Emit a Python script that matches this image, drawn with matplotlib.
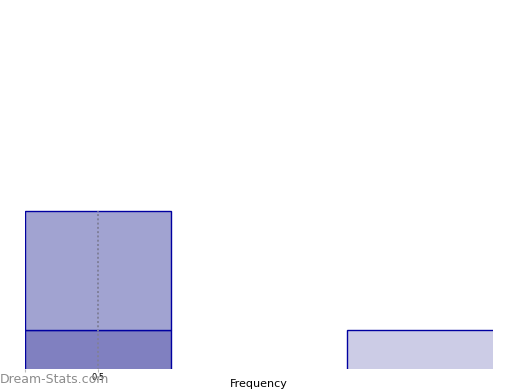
import matplotlib
matplotlib.use("Agg")
import matplotlib.pyplot as plt

# data
groups = ["A", "B"]
left_edges = [0.0, 2.21]
widths = [1.0, 1.02]
base_vals = [1.0, 1.0]
top_vals = [3.0, 0.0]

fig = plt.figure(figsize=(5.2, 3.9), dpi=100)
ax = fig.add_axes([25 / 520, 21 / 390, 468 / 520, 369 / 390])

base_colors = ["#8080c0", "#cccce6"]
ax.bar(left_edges, base_vals, width=widths, align="edge", color=base_colors,
       edgecolor="#0000a0", linewidth=1.0, zorder=2)
ax.bar(left_edges[:1], top_vals[:1], bottom=base_vals[:1], width=widths[:1],
       align="edge", color="#a1a3d1", edgecolor="#0000a0", linewidth=1.0, zorder=2)

# dotted guide at the tick
ax.vlines(0.5, 0, base_vals[0] + top_vals[0], colors="#80809a",
          linestyles=(0, (1, 1.2)), linewidth=1.4, zorder=3)

ax.set_xlim(0, 3.21)
ax.set_ylim(0.02, 9.3)
ax.set_xticks([0, 0.5])
ax.set_xticklabels(["", "0.5"], fontsize=6)
ax.tick_params(axis="x", length=2, pad=1, color="#bbbbbb")
ax.set_yticks([])
for s in ax.spines.values():
    s.set_visible(False)

fig.text(259 / 520, 1 / 390, "Frequency", fontsize=8, ha="center", va="bottom")

fig.text(0.0, 4 / 390, "Dream-Stats.com", fontsize=9, color="#8c8c8c",
         ha="left", va="bottom")

fig.savefig("out.png", dpi=100)
